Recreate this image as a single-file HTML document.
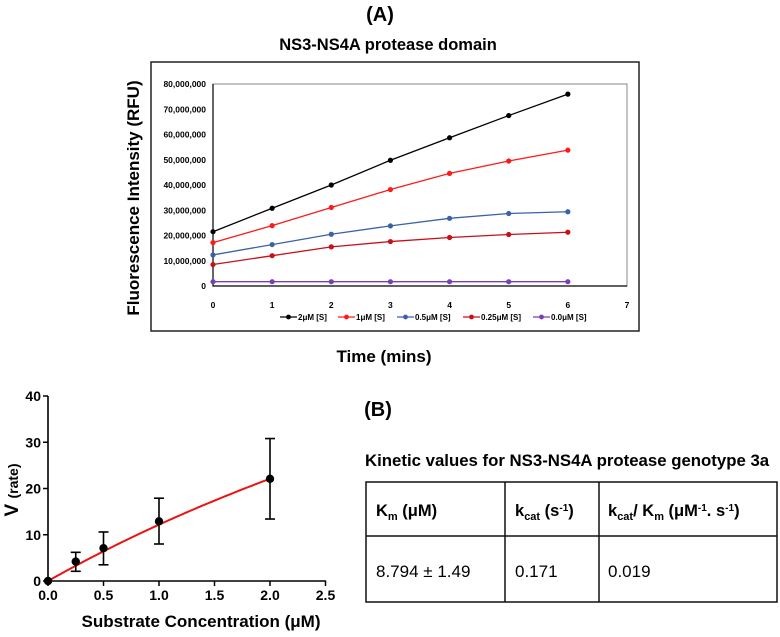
<!DOCTYPE html>
<html><head><meta charset="utf-8"><style>
body{margin:0;background:#fff;}
svg text{font-family:"Liberation Sans",Arial,sans-serif;font-weight:bold;}
</style></head><body>
<svg width="780" height="632" viewBox="0 0 780 632" xmlns="http://www.w3.org/2000/svg">
<text x="380" y="21" font-size="20" text-anchor="middle">(A)</text>
<text x="388" y="50" font-size="16.5" text-anchor="middle">NS3-NS4A protease domain</text>
<rect x="151" y="62" width="488" height="269" fill="none" stroke="#222" stroke-width="1.5"/>
<text transform="translate(139,198) rotate(-90)" font-size="17" text-anchor="middle">Fluorescence Intensity (RFU)</text>
<text x="384" y="362" font-size="17" text-anchor="middle">Time (mins)</text>
<g id="chartA"></g>
<g id="chartB"></g>
<text x="378" y="416" font-size="20" text-anchor="middle">(B)</text>
<text x="365" y="466" font-size="16.8">Kinetic values for NS3-NS4A protease genotype 3a</text>
<g stroke="#111" stroke-width="1.5" fill="none">
<rect x="366" y="482" width="411" height="120"/>
<line x1="366" y1="536" x2="777" y2="536"/>
<line x1="505" y1="482" x2="505" y2="602"/>
<line x1="599" y1="482" x2="599" y2="602"/>
</g>
<text x="376" y="516" font-size="16.5">K<tspan font-size="11" dy="4">m</tspan><tspan dy="-4"> (μM)</tspan></text>
<text x="515" y="516" font-size="16.5">k<tspan font-size="11" dy="4">cat</tspan><tspan dy="-4"> (s</tspan><tspan font-size="10" dy="-5">-1</tspan><tspan dy="5">)</tspan></text>
<text x="608" y="516" font-size="16.5">k<tspan font-size="11" dy="4">cat</tspan><tspan dy="-4">/ K</tspan><tspan font-size="11" dy="4">m</tspan><tspan dy="-4"> (μM</tspan><tspan font-size="10" dy="-5">-1</tspan><tspan dy="5">. s</tspan><tspan font-size="10" dy="-5">-1</tspan><tspan dy="5">)</tspan></text>
<text x="376" y="577" font-size="17" style="font-weight:normal">8.794 ± 1.49</text>
<text x="515" y="577" font-size="17" style="font-weight:normal">0.171</text>
<text x="608" y="577" font-size="17" style="font-weight:normal">0.019</text>
</svg>
<script>
const NS='http://www.w3.org/2000/svg';
const timePoints=[0,1,2,3,4,5,6];
const seriesNames=['2μM [S]','1μM [S]','0.5μM [S]','0.25μM [S]','0.0μM [S]'];
const seriesColors=['#000000','#ff1a1a','#3a62a8','#c8101a','#7b3fb5'];
const s2uM=[21.5,30.8,40,49.8,58.7,67.5,76];
const s1uM=[17.2,23.9,31.1,38.2,44.6,49.5,53.8];
const s05uM=[12.3,16.4,20.5,23.8,26.8,28.7,29.4];
const s025uM=[8.5,12,15.5,17.6,19.2,20.4,21.3];
const s0uM=[1.7,1.7,1.7,1.7,1.7,1.7,1.7];
const yTicksA=[0,10,20,30,40,50,60,70,80];
const xTicksA=[0,1,2,3,4,5,6,7];
const concB=[0,0.25,0.5,1,2];
const rateB=[0,4.2,7.1,12.9,22.1];
const errLowB=[0,2.1,3.5,8.0,13.4];
const errHighB=[0,6.2,10.6,17.9,30.8];
const fitKm=8.794;
const fitVmax=119.3;
const xTicksB=[0,0.5,1,1.5,2,2.5];
const yTicksB=[0,10,20,30,40];

function mk(tag,attrs,parent){const e=document.createElementNS(NS,tag);for(const k in attrs)e.setAttribute(k,attrs[k]);parent.appendChild(e);return e;}
const fmt=v=>v===0?'0':(v*1000000).toLocaleString('en-US');

// Chart A
const gA=document.getElementById('chartA');
const xA=t=>213+t*(414/7);
const yA=v=>286-v*(202/80);
let r=mk('rect',{x:213,y:84,width:414,height:202,fill:'none',stroke:'#888','stroke-width':1},gA);


let ax=mk('path',{d:'M213 84 V286 H627',fill:'none',stroke:'#000','stroke-width':1.2},gA);


yTicksA.forEach(v=>{const t=mk('text',{x:206,y:yA(v)+3,'font-size':8.5,'text-anchor':'end'},gA);t.textContent=fmt(v);

});
xTicksA.forEach(v=>{const t=mk('text',{x:xA(v),y:308,'font-size':8.5,'text-anchor':'middle'},gA);t.textContent=v;

});
const allSeries=[s2uM,s1uM,s05uM,s025uM,s0uM];
allSeries.forEach((s,i)=>{
  const g=mk('g',{},gA);
  
  
  mk('polyline',{points:s.map((v,j)=>xA(timePoints[j])+','+yA(v)).join(' '),fill:'none',stroke:seriesColors[i],'stroke-width':1.3},g);
  s.forEach((v,j)=>{const c=mk('circle',{cx:xA(timePoints[j]),cy:yA(v),r:2.6,fill:seriesColors[i]},g);
    
    });
});
const legX=[280,338,397,463,533];
seriesNames.forEach((n,i)=>{
  const g=mk('g',{},gA);
  
  
  mk('line',{x1:legX[i],y1:317,x2:legX[i]+17,y2:317,stroke:seriesColors[i],'stroke-width':1.3},g);
  mk('circle',{cx:legX[i]+8.5,cy:317,r:2.4,fill:seriesColors[i]},g);
  const t=mk('text',{x:legX[i]+18,y:320,'font-size':8},g);t.textContent=n;
});

// Chart B
const gB=document.getElementById('chartB');
const xB=c=>48+c*(277.5/2.5);
const yB=v=>581-v*(185/40);
let axB=mk('path',{d:'M48 396 V581 H326',fill:'none',stroke:'#000','stroke-width':1.6},gB);


yTicksB.forEach(v=>{mk('line',{x1:43,y1:yB(v),x2:48,y2:yB(v),stroke:'#000','stroke-width':1.5},gB);
  const t=mk('text',{x:41,y:yB(v)+5,'font-size':14,'text-anchor':'end'},gB);t.textContent=v;
  
  });
xTicksB.forEach(v=>{mk('line',{x1:xB(v),y1:581,x2:xB(v),y2:586,stroke:'#000','stroke-width':1.5},gB);
  const t=mk('text',{x:xB(v),y:600,'font-size':14,'text-anchor':'middle'},gB);t.textContent=v.toFixed(1);
  
  });
let yl=mk('text',{transform:'translate(18,490) rotate(-90)','font-size':19,'text-anchor':'middle'},gB);
yl.innerHTML='V <tspan font-size="14">(rate)</tspan>';


let xl=mk('text',{x:201,y:627,'font-size':17,'text-anchor':'middle'},gB);
xl.textContent='Substrate Concentration (μM)';


let pts=[];const cmax=concB[concB.length-1];
for(let i=0;i<=50;i++){const c=cmax*i/50;pts.push(xB(c)+','+yB(fitVmax*c/(fitKm+c)));}
let fit=mk('polyline',{points:pts.join(' '),fill:'none',stroke:'#ee1111','stroke-width':2},gB);


concB.forEach((c,i)=>{
  const g=mk('g',{},gB);
  
  
  if(errHighB[i]>errLowB[i]){
    const x=xB(c);
    mk('line',{x1:x,y1:yB(errLowB[i]),x2:x,y2:yB(errHighB[i]),stroke:'#000','stroke-width':1.6},g);
    mk('line',{x1:x-5,y1:yB(errLowB[i]),x2:x+5,y2:yB(errLowB[i]),stroke:'#000','stroke-width':1.6},g);
    mk('line',{x1:x-5,y1:yB(errHighB[i]),x2:x+5,y2:yB(errHighB[i]),stroke:'#000','stroke-width':1.6},g);
  }
  mk('circle',{cx:xB(c),cy:yB(rateB[i]),r:4.2,fill:'#000'},g);
});
</script>
</body></html>
